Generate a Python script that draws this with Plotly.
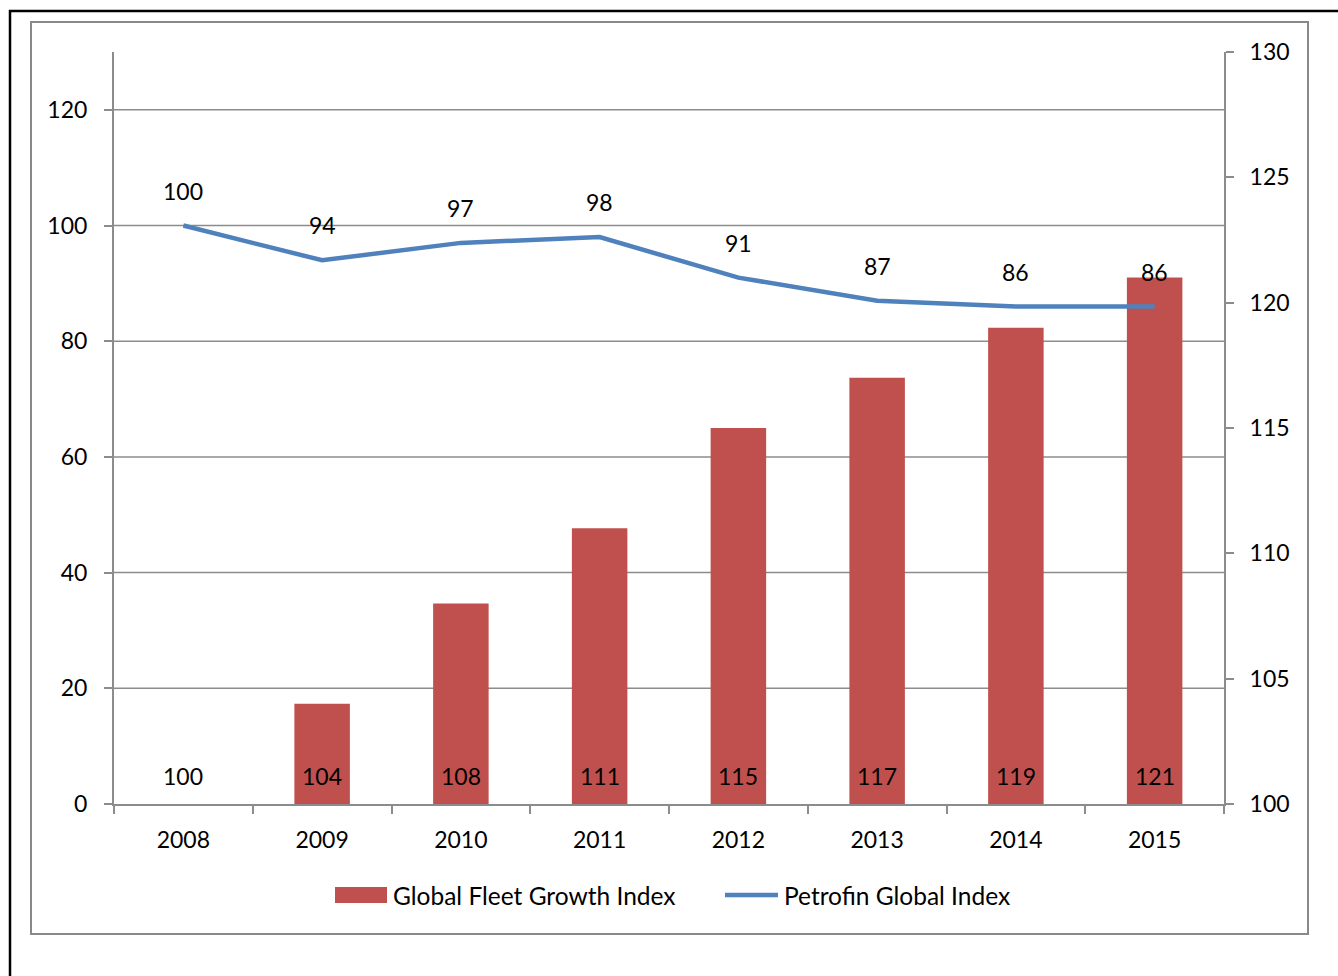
import plotly.graph_objects as go

# Data
years = ["2008", "2009", "2010", "2011", "2012", "2013", "2014", "2015"]
fleet_growth = [100, 104, 108, 111, 115, 117, 119, 121]
petrofin_index = [100, 94, 97, 98, 91, 87, 86, 86]
left_ticks = [0, 20, 40, 60, 80, 100, 120]
right_ticks = [100, 105, 110, 115, 120, 125, 130]

BAR_NAME = "Global Fleet Growth Index"
LINE_NAME = "Petrofin Global Index"
BAR_COLOR = "#C0504D"
LINE_COLOR = "#4F81BD"
GRID = "#8C8C8C"
FONT = "Lato, Carlito, Calibri, sans-serif"

W, H = 1338, 976
L, R, T, B = 114, 1224, 52, 804


def px(x):
    return (x - L) / (R - L)


def py(y):
    return (B - y) / (B - T)


fig = go.Figure()

# bars on the right-hand axis (base subplot), line on the left-hand overlay
fig.add_trace(go.Bar(
    x=years, y=fleet_growth, name=BAR_NAME, yaxis="y",
    marker=dict(color=BAR_COLOR, line=dict(width=0)),
    width=0.4, showlegend=False, hoverinfo="x+y",
))
fig.add_trace(go.Scatter(
    x=years, y=petrofin_index, name=LINE_NAME, yaxis="y2",
    mode="lines", line=dict(color=LINE_COLOR, width=4.5),
    showlegend=False,
))

annotations = []
# value labels above the line points (x given as category index)
for i, v in enumerate(petrofin_index):
    annotations.append(dict(
        x=i, y=v, xref="x", yref="y2", text=str(v), showarrow=False,
        yshift=35, font=dict(family=FONT, size=23, color="black"),
    ))
# value labels at the base of each bar
for i, v in enumerate(fleet_growth):
    annotations.append(dict(
        x=i, y=min(fleet_growth), xref="x", yref="y", text=str(v),
        showarrow=False, yshift=28,
        font=dict(family=FONT, size=23, color="black"),
    ))

# legend
annotations.append(dict(
    x=px(391), y=py(895), xref="paper", yref="paper", text=BAR_NAME,
    showarrow=False, xanchor="left", yanchor="middle",
    font=dict(family=FONT, size=24.5, color="black"),
))
annotations.append(dict(
    x=px(782), y=py(895), xref="paper", yref="paper", text=LINE_NAME,
    showarrow=False, xanchor="left", yanchor="middle",
    font=dict(family=FONT, size=24.5, color="black"),
))

shapes = [
    # outer frame
    dict(type="rect", xref="paper", yref="paper",
         x0=px(10), x1=px(1400), y0=py(1100), y1=py(11),
         line=dict(color="black", width=2.5), layer="below"),
    # chart area border
    dict(type="rect", xref="paper", yref="paper",
         x0=px(31), x1=px(1308), y0=py(934), y1=py(22),
         line=dict(color="#898989", width=2), layer="below"),
    # legend keys
    dict(type="rect", xref="paper", yref="paper",
         x0=px(335), x1=px(387), y0=py(903), y1=py(887),
         fillcolor=BAR_COLOR, line=dict(width=0)),
    dict(type="line", xref="paper", yref="paper",
         x0=px(725), x1=px(778), y0=py(895), y1=py(895),
         line=dict(color=LINE_COLOR, width=4.5)),
]
# horizontal gridlines of the left axis, kept behind the bars
for t in left_ticks[1:]:
    shapes.append(dict(
        type="line", xref="paper", yref="y2", x0=0, x1=1, y0=t, y1=t,
        line=dict(color=GRID, width=1.5), layer="below",
    ))

fig.update_layout(
    width=W, height=H,
    margin=dict(l=L, r=W - R, t=T, b=H - B, pad=0),
    paper_bgcolor="white", plot_bgcolor="white",
    font=dict(family=FONT, size=23, color="black"),
    xaxis=dict(
        type="category", range=[-0.5, len(years) - 0.5],
        showline=True, linecolor=GRID, linewidth=2,
        ticks="outside", tickson="boundaries", ticklen=8, tickcolor=GRID,
        tickwidth=2, showgrid=False, ticklabelstandoff=14, tickangle=0,
        tickfont=dict(family=FONT, size=23, color="black"),
    ),
    yaxis=dict(
        range=[100, 130], tickvals=right_ticks, side="right",
        showline=True, linecolor=GRID, linewidth=2, ticks="outside",
        ticklen=8, tickcolor=GRID, tickwidth=2, showgrid=False,
        zeroline=False, ticklabelstandoff=11,
        tickfont=dict(family=FONT, size=23, color="black"),
    ),
    yaxis2=dict(
        range=[0, 130], tickvals=left_ticks, overlaying="y", side="left",
        showline=True, linecolor=GRID, linewidth=2, ticks="outside",
        ticklen=8, tickcolor=GRID, tickwidth=2, showgrid=False,
        zeroline=False, ticklabelstandoff=12,
        tickfont=dict(family=FONT, size=23, color="black"),
    ),
    showlegend=False,
    annotations=annotations,
    shapes=shapes,
)

fig.write_html("out.html")
